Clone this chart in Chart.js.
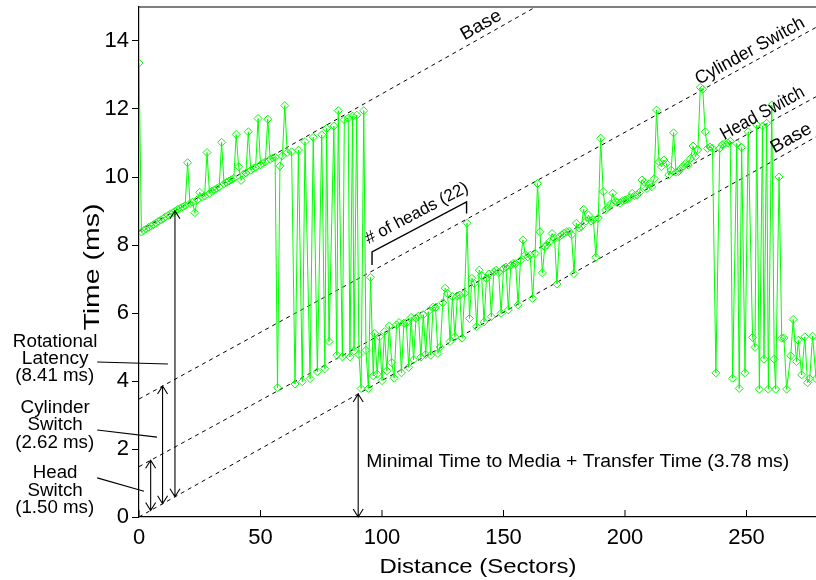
<!DOCTYPE html>
<html><head><meta charset="utf-8">
<script src="https://cdn.jsdelivr.net/npm/chart.js@4.4.1/dist/chart.umd.min.js"></script>
<style>html,body{margin:0;padding:0;background:#fff;}</style>
</head><body>
<canvas id="c" width="816" height="580"></canvas>
<script>
// ---- data ----
const distance = [0,1,2,3,4,5,6,7,8,9,10,11,12,13,14,15,16,17,18,19,20,21,22,23,24,25,26,27,28,29,30,
31,32,33,34,35,36,37,38,39,40,41,42,43,44,45,46,47,48,49,50,51,52,53,54,55,56,57,58,59,60,61,
62.8,64.2,65.6,67.2,68.3,70.4,71.7,73.4,75.2,76.5,77.2,78.2,80.2,81.4,82.0,83.7,84.5,86.1,86.8,87.9,88.5,89.6,90.5,91.4,92.5,93.4,94.4,95.3,96.4,
97,98,99,100,101,102,103,104,105,106,107,108,109,110,111,112,113,114,115,116,117,118,119,120,
121,122,123,124,125,126,127,128,129,130,131,132,133,134,135,136,137,138,139,140,141,142,143,144,145,
146,147,148,149,150,151,152,153,154,155,156,157,158,159,160,161,162,163,164,165,166,167,168,169,170,
171,172,173,174,175,176,177,178,179,180,181,182,183,184,185,186,187,188,189,190,191,192,193,194,195,
196,197,198,199,200,201,202,203,204,205,206,207,208,209,210,211,212,213,214,215,216,217,218,219,220,
221,222,223,224,225,226,227,228,229,230,231,232,233,234,235,236,
237.4,239,240,241.2,242.3,243.3,244.3,246,247,248,249.4,250.7,252.5,253.5,254.2,255.3,256.6,257.2,258.3,259,
260.4,261.4,262,263.4,264.5,265.4,266.5,268.2,269.2,270.6,271.3,272.7,274,275.1,276,277.2,278.6];
const timeMs = [13.35,8.38,8.43,8.47,8.52,8.55,8.60,8.64,8.70,8.74,8.78,8.83,8.87,8.92,8.95,9.00,9.05,9.08,9.12,9.16,
10.42,9.22,9.26,8.95,9.33,9.55,9.40,9.44,10.72,9.52,9.58,9.62,9.66,9.70,11.02,9.80,9.84,9.88,9.92,9.96,
11.25,10.30,9.90,10.08,10.12,11.33,10.20,10.25,10.28,11.72,10.36,10.40,10.44,11.70,10.52,10.56,10.58,3.80,10.32,10.62,12.10,10.72,
10.74,3.91,10.79,3.98,11.04,4.07,11.17,4.27,11.24,4.36,11.43,5.16,11.50,4.76,11.95,4.71,11.68,11.73,4.71,11.79,4.89,11.82,4.78,3.78,11.95,4.90,3.78,7.05,4.15,
5.40,4.20,5.30,4.01,5.45,4.30,5.62,4.54,4.08,5.65,5.72,4.24,5.70,5.72,4.40,5.87,4.62,5.85,5.91,4.70,5.95,4.78,6.04,4.76,
6.17,6.16,4.81,5.00,6.30,6.73,6.58,5.16,6.48,5.30,6.50,6.53,5.26,6.58,8.64,5.84,7.02,6.87,5.60,7.26,7.10,5.74,7.02,7.15,5.89,
7.21,7.26,7.20,5.99,7.31,7.35,6.09,7.40,7.46,7.45,6.24,7.55,8.15,7.71,7.65,7.70,6.43,7.75,9.81,8.39,7.18,7.95,8.00,8.10,8.34,
8.20,6.85,8.24,8.30,8.35,8.39,8.40,8.30,7.16,8.64,8.50,8.54,9.05,8.70,8.88,8.70,8.74,7.64,8.79,11.14,9.57,9.03,9.10,9.20,9.52,
9.28,9.25,9.23,9.30,9.32,9.35,9.40,9.52,9.45,9.47,9.55,9.91,9.85,9.66,9.80,9.71,9.95,11.97,10.45,10.30,10.50,10.40,10.06,10.20,11.30,
10.14,10.16,10.25,10.32,10.40,10.35,10.55,10.91,10.60,10.80,12.64,12.58,11.33,10.84,10.88,10.85,
4.24,10.84,10.95,10.99,11.00,11.05,4.08,10.99,3.78,10.87,4.24,11.33,5.28,4.99,11.53,3.76,11.50,4.64,11.58,3.76,
12.12,4.64,3.76,10.00,5.26,5.26,3.76,4.74,5.81,4.57,5.20,4.18,5.30,3.95,4.07,5.32,4.07];

const xTicks = [0,50,100,150,200,250];
const yTicks = [0,2,4,6,8,10,12,14];
const xRange = [0,278.6];
const yRange = [0,15];

// reference (dashed) lines: value at left edge and at right edge of the plot
const refNames = ['Base','Head Switch','Cylinder Switch','Base'];
const refLeft  = [0, 1.48, 3.47, 8.41];
const refRight = [11.18, 12.36, 14.40, 19.66];

const FONT = '"Liberation Sans", Arial, Helvetica, sans-serif';
Chart.defaults.font.family = FONT;

function refVal(i, x){ return refLeft[i] + (refRight[i]-refLeft[i]) * (x - xRange[0]) / (xRange[1]-xRange[0]); }

// annotation layout (data coordinates)
const leftLabels = [
  ['Rotational',-34.5,5.01,84.6],['Latency',-34.5,4.50,66.7],['(8.41 ms)',-34.7,4.00,79],
  ['Cylinder',-34.5,3.07,69.3],['Switch',-34.5,2.56,55.3],['(2.62 ms)',-34.7,2.04,79],
  ['Head',-34.5,1.14,44.7],['Switch',-34.5,0.63,55.3],['(1.50 ms)',-34.7,0.11,79]
];
const leaders = [[-17.2,4.56,11.9,4.50],[-17.2,2.56,7.4,2.35],[-17.2,1.15,2.05,0.76]];
const arrows = [[4.8,0,1],[9.7,0,2],[14.8,0,3]];
const refLabelX = [270.6, 258.8, 253.6, 143.0];
const refLabelW = [44, 93, 122, 44];

function txt(ctx, s, px, py, size, targetW, align, angle, baseline){
  ctx.save();
  ctx.font = size + 'px ' + FONT;
  ctx.fillStyle = '#000';
  ctx.textAlign = align || 'center';
  ctx.textBaseline = baseline || 'alphabetic';
  const w = ctx.measureText(s).width;
  const sx = targetW ? targetW / w : 1;
  ctx.translate(px, py);
  if (angle) ctx.rotate(angle);
  ctx.scale(sx, 1);
  ctx.fillText(s, 0, 0);
  ctx.restore();
}
function vArrow(ctx, px, pBottom, pTop){
  ctx.beginPath();
  ctx.moveTo(px, pBottom); ctx.lineTo(px, pTop);
  ctx.moveTo(px-5, pTop+8); ctx.lineTo(px, pTop); ctx.lineTo(px+5, pTop+8);
  ctx.moveTo(px-5, pBottom-8); ctx.lineTo(px, pBottom); ctx.lineTo(px+5, pBottom-8);
  ctx.stroke();
}

const annot = {
  id: 'annot',
  afterDraw(chart){
    const ctx = chart.ctx, xs = chart.scales.x, ys = chart.scales.y, ca = chart.chartArea;
    const X = v => xs.getPixelForValue(v), Y = v => ys.getPixelForValue(v);
    ctx.save();
    ctx.strokeStyle = '#000';
    ctx.lineWidth = 1.2;
    ctx.beginPath(); ctx.moveTo(ca.left, ca.top); ctx.lineTo(ca.right, ca.top); ctx.stroke();
    ctx.lineWidth = 1;
    xTicks.forEach(v => { const p = X(v); ctx.beginPath(); ctx.moveTo(p, ca.bottom); ctx.lineTo(p, ca.bottom-7); ctx.stroke(); });
    ctx.lineWidth = 1.1;
    arrows.forEach(a => vArrow(ctx, X(a[0]), Y(refVal(a[1], a[0])), Y(refVal(a[2], a[0]))));
    vArrow(ctx, X(90.2), Y(0), Y(refVal(0, 90.2)));
    leaders.forEach(l => { ctx.beginPath(); ctx.moveTo(X(l[0]), Y(l[1])); ctx.lineTo(X(l[2]), Y(l[3])); ctx.stroke(); });
    ctx.lineWidth = 1.4;
    ctx.beginPath();
    ctx.moveTo(X(95.9), Y(7.41)); ctx.lineTo(X(95.9), Y(7.80)); ctx.lineTo(X(134.8), Y(9.27)); ctx.lineTo(X(134.8), Y(8.93));
    ctx.stroke();
    ctx.restore();

    leftLabels.forEach(l => txt(ctx, l[0], X(l[1]), Y(l[2]), 17.5, l[3], 'center'));
    txt(ctx, 'Minimal Time to Media + Transfer Time (3.78 ms)', X(93.5), Y(1.47), 18, 423, 'left');
    txt(ctx, 'Distance (Sectors)', X(139.5), Y(-1.65), 21, 197, 'center');
    txt(ctx, 'Time (ms)', X(-18.9), Y(7.35), 22, 127, 'center', -Math.PI/2, 'middle');
    refNames.forEach((name, i) => {
      const a = Math.atan2(Y(refRight[i]) - Y(refLeft[i]), X(xRange[1]) - X(xRange[0]));
      const off = 11;
      const px = X(refLabelX[i]) + Math.sin(a) * off;
      const py = Y(refVal(i, refLabelX[i])) - Math.cos(a) * off;
      txt(ctx, name, px, py, 18.5, refLabelW[i], 'center', a, 'middle');
    });
    {
      const a = Math.atan2(Y(9.27) - Y(7.80), X(134.8) - X(95.9));
      const off = 13, along = 4;
      const px = X(115.35) + Math.sin(a) * off + Math.cos(a) * along;
      const py = Y(8.535) - Math.cos(a) * off + Math.sin(a) * along;
      txt(ctx, '# of heads (22)', px, py, 17, null, 'center', a, 'middle');
    }
  }
};

const datasets = [{
  data: distance.map((x, i) => ({x: x, y: timeMs[i]})),
  showLine: true, borderColor: '#00ff00', borderWidth: 1,
  pointStyle: 'rectRot', pointRadius: 4, pointBorderWidth: 1,
  pointBorderColor: '#00ff00', pointBackgroundColor: 'rgba(255,255,255,0)'
}];
refNames.forEach((n, i) => datasets.push({
  data: [{x: xRange[0], y: refLeft[i]}, {x: xRange[1], y: refRight[i]}],
  showLine: true, borderColor: '#000', borderWidth: 1, borderDash: [4,4], pointRadius: 0
}));

new Chart(document.getElementById('c'), {
  type: 'scatter',
  data: { datasets: datasets },
  options: {
    responsive: false, animation: false, devicePixelRatio: 1, events: [],
    layout: { autoPadding: false, padding: { top: 7, left: 0, right: 0, bottom: 0 } },
    plugins: { legend: { display: false }, tooltip: { enabled: false } },
    scales: {
      x: {
        type: 'linear', min: xRange[0], max: xRange[1],
        afterBuildTicks: s => { s.ticks = xTicks.map(v => ({value: v})); },
        afterFit: s => { s.height = 63; s.paddingLeft = 0; s.paddingRight = 0; s.paddingTop = 0; s.paddingBottom = 0; },
        grid: { drawOnChartArea: false, drawTicks: false },
        border: { color: '#000', width: 1.2 },
        ticks: { color: '#000', font: { size: 22 }, padding: 8, maxRotation: 0, autoSkip: false }
      },
      y: {
        type: 'linear', min: yRange[0], max: yRange[1],
        afterBuildTicks: s => { s.ticks = yTicks.map(v => ({value: v})); },
        afterFit: s => { s.width = 139; s.paddingLeft = 0; s.paddingRight = 0; s.paddingTop = 0; s.paddingBottom = 0; },
        grid: { drawOnChartArea: false, drawTicks: true, tickLength: 7, color: '#000' },
        border: { color: '#000', width: 1.2 },
        ticks: { color: '#000', font: { size: 22 }, padding: 3 }
      }
    }
  },
  plugins: [annot]
});
</script>
</body></html>
